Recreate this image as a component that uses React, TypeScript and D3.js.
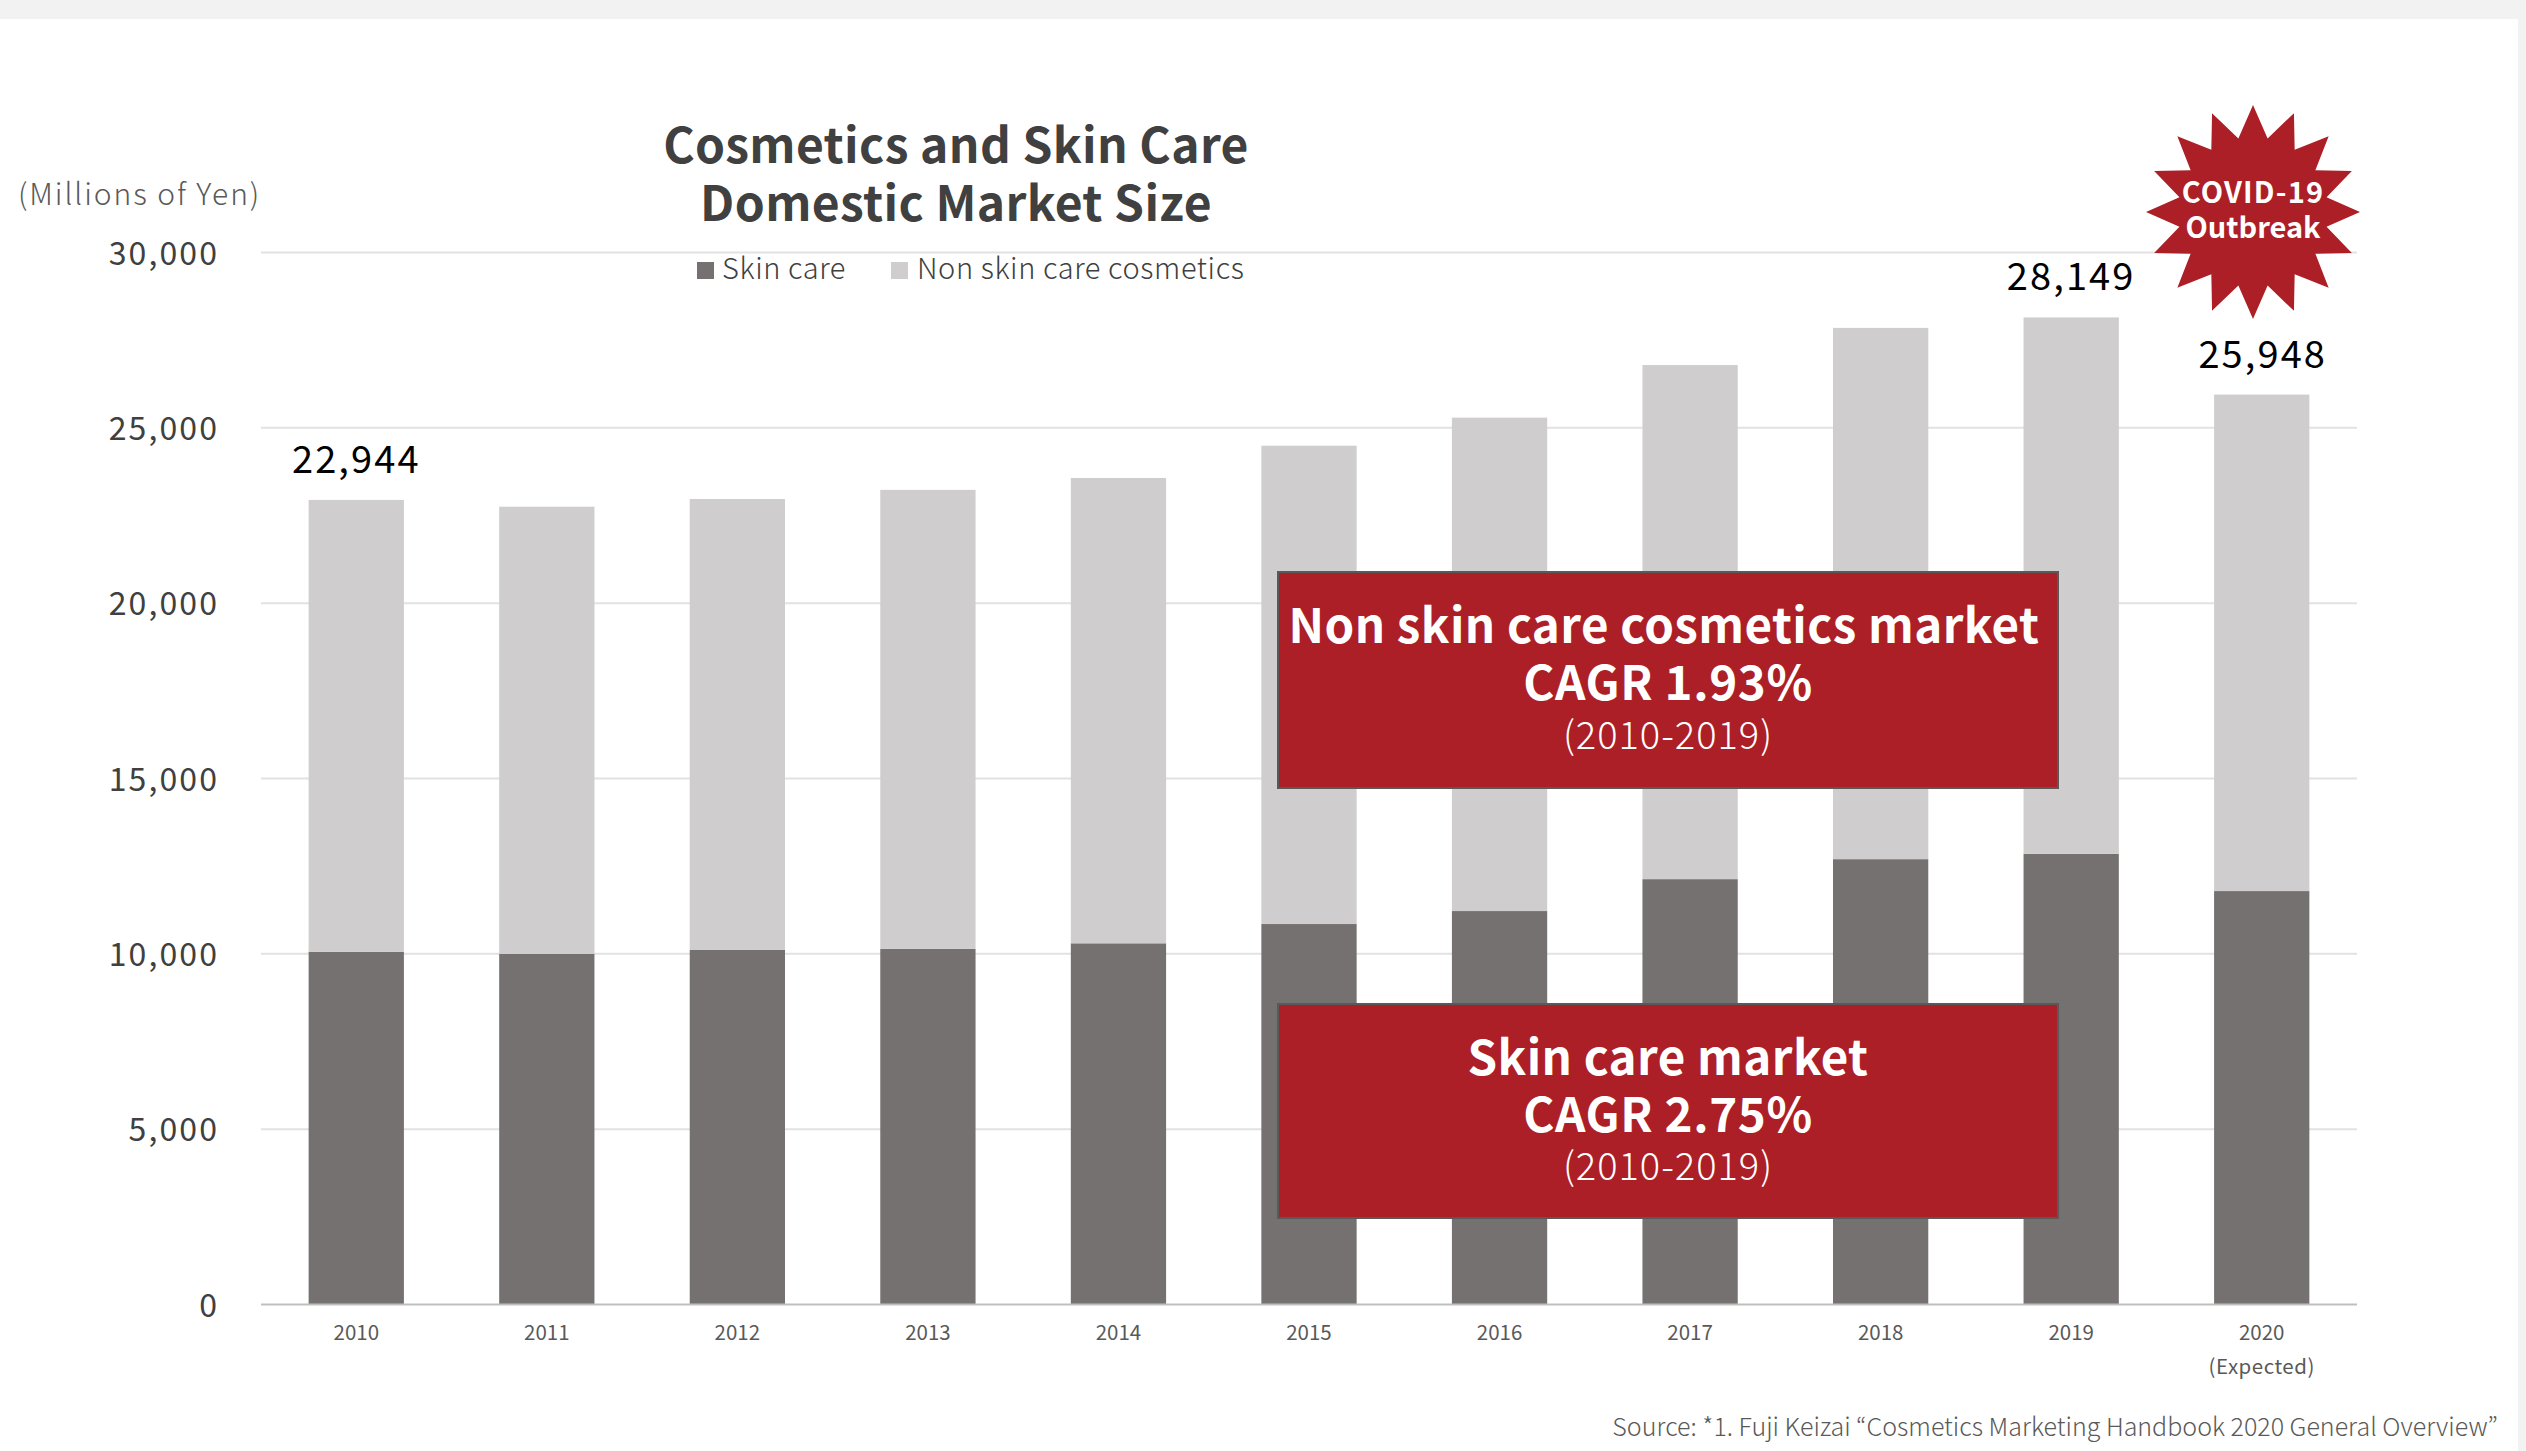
import React from "react";
import * as d3 from "d3";

const years = ["2010", "2011", "2012", "2013", "2014", "2015", "2016", "2017", "2018", "2019", "2020"];
const skinCare = [10060, 10000, 10110, 10140, 10300, 10850, 11220, 12130, 12700, 12850, 11790];
const nonSkinCare = [12884, 12750, 12860, 13090, 13270, 13640, 14070, 14660, 15150, 15299, 14158];
const labelledYears = ["2010", "2019", "2020"];
const yTicks = [0, 5000, 10000, 15000, 20000, 25000, 30000];

const FONT = "'Noto Sans CJK JP', 'Noto Sans', sans-serif";
const RED = "#ad1f26";
const DARK = "#757170";
const LIGHT = "#cfcdce";

const W = 2526;
const H = 1451;
const x = d3.scaleBand<string>().domain(years).range([261, 2357]).paddingInner(0.5).paddingOuter(0.25);
const y = d3.scaleLinear().domain([0, 30000]).range([1304.5, 252.5]);
const fmt = d3.format(",");

// Sixteen-pointed burst behind the outbreak note
const burst = d3
  .lineRadial<number>()
  .angle((_, i) => (i * Math.PI) / 16)
  .radius((r) => r)
  .curve(d3.curveLinearClosed)(d3.range(32).map((i) => (i % 2 === 0 ? 107 : 75)));

function Callout({ top, bottom, lines, headShift, noteY }: { top: number; bottom: number; lines: [string, string, string]; headShift: number; noteY: number }) {
  const cx = 1668;
  return (
    <g textAnchor="middle" fill="#fff">
      <rect x={1278} y={top} width={780} height={bottom - top} fill={RED} stroke="#595959" strokeWidth={2} />
      <text x={cx + headShift} y={top + 71} fontSize={47.5} fontWeight={700} letterSpacing={0.45}>{lines[0]}</text>
      <text x={cx} y={top + 128} fontSize={47.5} fontWeight={700} letterSpacing={0.6}>{lines[1]}</text>
      <text x={cx} y={noteY} fontSize={38} fontWeight={300} letterSpacing={1}>{lines[2]}</text>
    </g>
  );
}

export default function App() {
  return (
    <svg width={W} height={H} viewBox={`0 0 ${W} ${H}`} fontFamily={FONT} style={{ position: "absolute", left: 0, top: 0, background: "#fff" }}>
      <rect x={0} y={0} width={W} height={19} fill="#f2f2f2" />
      <rect x={2518} y={0} width={8} height={H} fill="#f2f2f2" />

      {yTicks.map((t) => (
        <g key={t}>
          {t > 0 && <line x1={261} x2={2357} y1={y(t)} y2={y(t)} stroke="#e2e2e2" strokeWidth={2} />}
          <text x={219} y={y(t) + 12} textAnchor="end" fontSize={32} fill="#404040" letterSpacing={2.1}>{fmt(t)}</text>
        </g>
      ))}

      {years.map((yr, i) => (
        <g key={yr}>
          <rect x={x(yr)} width={x.bandwidth()} y={y(skinCare[i])} height={y(0) - y(skinCare[i])} fill={DARK} />
          <rect
            x={x(yr)}
            width={x.bandwidth()}
            y={y(skinCare[i] + nonSkinCare[i])}
            height={y(skinCare[i]) - y(skinCare[i] + nonSkinCare[i])}
            fill={LIGHT}
          />
          <text x={x(yr)! + x.bandwidth() / 2} y={1340} textAnchor="middle" fontSize={20.5} fill="#595959">{yr}</text>
        </g>
      ))}
      <line x1={261} x2={2357} y1={y(0)} y2={y(0)} stroke="#bfbfbf" strokeWidth={2} />
      <text x={x("2020")! + x.bandwidth() / 2} y={1374} textAnchor="middle" fontSize={20.5} fill="#595959" letterSpacing={0.5}>(Expected)</text>

      {years.map((yr, i) =>
        labelledYears.includes(yr) ? (
          <text key={yr} x={x(yr)! + x.bandwidth() / 2 + (yr === "2020" ? 1 : 0)} y={y(skinCare[i] + nonSkinCare[i]) - 27} textAnchor="middle" fontSize={38} fill="#000" letterSpacing={2.1}>
            {fmt(skinCare[i] + nonSkinCare[i])}
          </text>
        ) : null
      )}

      <g textAnchor="middle" fill="#404040" fontWeight={700} fontSize={48} letterSpacing={0.35}>
        <text x={956} y={163}>Cosmetics and Skin Care</text>
        <text x={956} y={221}>Domestic Market Size</text>
      </g>
      <text x={18} y={205} fontSize={30} fontWeight={300} fill="#595959" letterSpacing={1.9}>(Millions of Yen)</text>

      <rect x={697} y={262} width={17} height={17} fill={DARK} />
      <text x={722} y={279} fontSize={29} fontWeight={300} fill="#404040" letterSpacing={0.6}>Skin care</text>
      <rect x={891} y={262} width={17} height={17} fill={LIGHT} />
      <text x={917} y={279} fontSize={29} fontWeight={300} fill="#404040" letterSpacing={0.6}>Non skin care cosmetics</text>

      <Callout top={572} bottom={788} headShift={-4} noteY={749} lines={["Non skin care cosmetics market", "CAGR 1.93%", "(2010-2019)"]} />
      <Callout top={1004} bottom={1218} headShift={0} noteY={1180} lines={["Skin care market", "CAGR 2.75%", "(2010-2019)"]} />

      <path d={burst!} transform="translate(2253,212)" fill={RED} />
      <g textAnchor="middle" fill="#fff" fontSize={29} fontWeight={700}>
        <text x={2253} y={203} letterSpacing={1.2}>COVID-19</text>
        <text x={2253} y={238} letterSpacing={0}>Outbreak</text>
      </g>

      <text x={2498} y={1436} textAnchor="end" fontSize={25} fontWeight={300} fill="#595959">
        Source: *1. Fuji Keizai “Cosmetics Marketing Handbook 2020 General Overview”
      </text>
    </svg>
  );
}
